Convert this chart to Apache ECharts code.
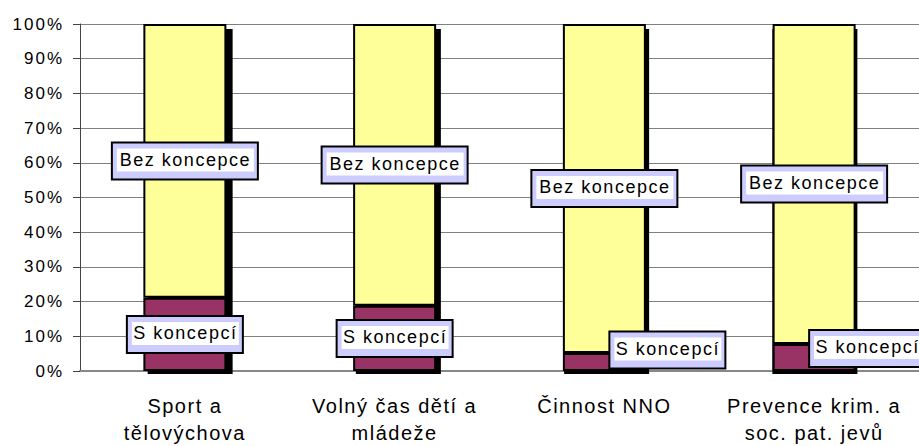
<!DOCTYPE html>
<html>
<head>
<meta charset="utf-8">
<script src="https://cdn.jsdelivr.net/npm/echarts@6/dist/echarts.min.js"></script>
<style>
  html, body { margin: 0; padding: 0; background: #fff; }
  #main svg text { letter-spacing: 1.5px; }
  #main svg text[style*="17px"] { letter-spacing: 2px; }
</style>
</head>
<body>
<div id="main" style="width: 919px;height:446px;"></div>
<script type="text/javascript">
    // data (podíly v %)
    var kategorie = ['Sport a\ntělovýchova', 'Volný čas dětí a\nmládeže', 'Činnost NNO', 'Prevence krim. a\nsoc. pat. jevů'];
    var sKoncepci = [21.1, 18.8, 5.2, 7.8];
    var bezKoncepce = [78.9, 81.2, 94.8, 92.2];

    var pismo = 'Liberation Sans, Arial, sans-serif';

    // posunuté popisky (Excel je odsunul stranou)
    var posunS = { 2: [63, -12], 3: [53, -9] };

    function popisek(sirka) {
        return {
            show: true,
            position: 'inside',
            formatter: '{t|{a}}',
            backgroundColor: '#ccccff',
            borderColor: '#000',
            borderWidth: 2,
            padding: [5, 3, 7, 4],
            rich: {
                t: {
                    backgroundColor: '#fff',
                    width: sirka,
                    height: 23,
                    lineHeight: 23,
                    align: 'center',
                    fontSize: 18,
                    fontFamily: pismo,
                    color: '#000'
                }
            }
        };
    }

    var stin = sKoncepci.map(function (v, i) { return v + bezKoncepce[i]; });

    var myChart = echarts.init(document.getElementById('main'), null, { renderer: 'svg' });
    var option = {
        animation: false,
        grid: [
            { left: 80, right: -8, top: 24, bottom: 72 },
            { left: 86, right: -14, top: 29, bottom: 72 }
        ],
        xAxis: [
            {
                type: 'category',
                data: kategorie,
                axisLine: { lineStyle: { color: '#888', width: 2 } },
                axisTick: { show: false },
                axisLabel: {
                    margin: 21,
                    fontSize: 20,
                    lineHeight: 27,
                    fontFamily: pismo,
                    color: '#000'
                }
            },
            { type: 'category', gridIndex: 1, data: kategorie, show: false }
        ],
        yAxis: [
            {
                type: 'value',
                min: 0,
                max: 100,
                interval: 10,
                axisLine: { show: true, lineStyle: { color: '#444' } },
                axisTick: { show: true, length: 7, lineStyle: { color: '#444' } },
                splitLine: { lineStyle: { color: '#808080' } },
                axisLabel: {
                    formatter: '{value}%',
                    margin: 16,
                    fontSize: 17,
                    fontFamily: pismo,
                    color: '#000'
                }
            },
            { type: 'value', gridIndex: 1, min: 0, max: 100, show: false }
        ],
        series: [
            {
                name: 'stín',
                type: 'bar',
                xAxisIndex: 1,
                yAxisIndex: 1,
                barWidth: 85,
                silent: true,
                z: 1,
                itemStyle: { color: '#000' },
                data: stin
            },
            {
                name: 'S koncepcí',
                type: 'bar',
                stack: 'celkem',
                barWidth: 83,
                z: 3,
                itemStyle: { color: '#993366', borderColor: '#000', borderWidth: 2 },
                label: popisek(107),
                data: sKoncepci.map(function (v, i) {
                    return posunS[i] ? { value: v, label: { offset: posunS[i] } } : v;
                })
            },
            {
                name: 'Bez koncepce',
                type: 'bar',
                stack: 'celkem',
                barWidth: 83,
                z: 2,
                itemStyle: { color: '#ffff99', borderColor: '#000', borderWidth: 2 },
                label: popisek(137),
                data: bezKoncepce
            }
        ]
    };
    myChart.setOption(option);
</script>
</body>
</html>
